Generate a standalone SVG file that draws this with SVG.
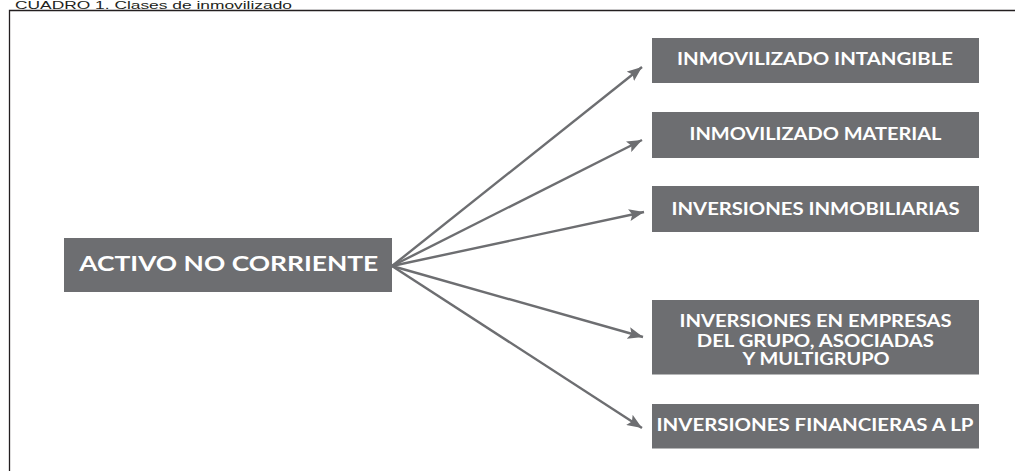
<svg xmlns="http://www.w3.org/2000/svg" width="1015" height="471" viewBox="0 0 1015 471">
<style>
.box{fill:#6d6e71}
.t{font-family:Lato,"Open Sans","Liberation Sans",sans-serif;font-weight:700;fill:#ffffff;text-anchor:middle}
.s{font-size:16.5px}
.c{stroke:#6d6e71;stroke-width:2.4;fill:none}
</style>
<defs>
<marker id="ah" markerUnits="userSpaceOnUse" markerWidth="16" markerHeight="12" refX="15" refY="6" orient="auto">
<path d="M0,0 L15,6 L0,12 L3,6 Z" fill="#6d6e71"/>
</marker>
</defs>
<rect x="0" y="0" width="1015" height="471" fill="#ffffff"/>
<text x="15" y="8.5" font-family="'Liberation Sans',Arial,sans-serif" font-size="10" fill="#231f20" textLength="277" lengthAdjust="spacingAndGlyphs">CUADRO 1. Clases de inmovilizado</text>
<path d="M9.5,480 V10.5 H1020" fill="none" stroke="#231f20" stroke-width="1.3"/>
<g id="connectors">
<line class="c" x1="392" y1="266" x2="642" y2="67" marker-end="url(#ah)"/>
<line class="c" x1="392" y1="266" x2="642" y2="140" marker-end="url(#ah)"/>
<line class="c" x1="392" y1="266" x2="644" y2="212" marker-end="url(#ah)"/>
<line class="c" x1="392" y1="266" x2="643" y2="337" marker-end="url(#ah)"/>
<line class="c" x1="392" y1="266" x2="642" y2="428" marker-end="url(#ah)"/>
</g>
<g id="activo">
<rect class="box" x="64" y="238" width="328" height="54"/>
<text class="t" x="228.8" y="271" font-size="20.5" textLength="299" lengthAdjust="spacingAndGlyphs">ACTIVO NO CORRIENTE</text>
</g>
<g id="intangible">
<rect class="box" x="652" y="38" width="327" height="45"/>
<text class="t s" x="815" y="65.3" textLength="276" lengthAdjust="spacingAndGlyphs">INMOVILIZADO INTANGIBLE</text>
</g>
<g id="material">
<rect class="box" x="652" y="112" width="327" height="46"/>
<text class="t s" x="815.5" y="139.5" textLength="252" lengthAdjust="spacingAndGlyphs">INMOVILIZADO MATERIAL</text>
</g>
<g id="inmobiliarias">
<rect class="box" x="652" y="186" width="327" height="46"/>
<text class="t s" x="815.5" y="215" textLength="288" lengthAdjust="spacingAndGlyphs">INVERSIONES INMOBILIARIAS</text>
</g>
<g id="grupo">
<rect class="box" x="652" y="300" width="327" height="74.5"/>
<text class="t s" x="815.5" y="326.7" textLength="272" lengthAdjust="spacingAndGlyphs">INVERSIONES EN EMPRESAS</text>
<text class="t s" x="815.3" y="346.5" textLength="237" lengthAdjust="spacingAndGlyphs">DEL GRUPO, ASOCIADAS</text>
<text class="t s" x="816" y="365" textLength="147" lengthAdjust="spacingAndGlyphs">Y MULTIGRUPO</text>
</g>
<g id="financieras">
<rect class="box" x="652" y="404" width="327" height="44.5"/>
<text class="t s" x="815" y="430.5" textLength="317" lengthAdjust="spacingAndGlyphs">INVERSIONES FINANCIERAS A LP</text>
</g>
</svg>
